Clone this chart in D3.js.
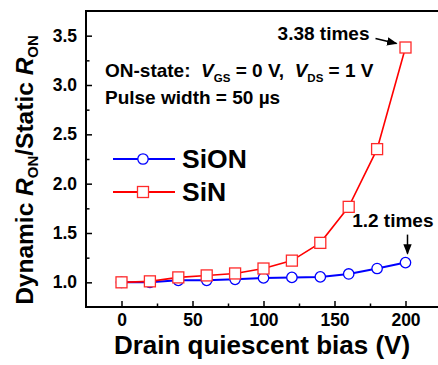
<!DOCTYPE html>
<html>
<head>
<meta charset="utf-8">
<script src="https://cdn.jsdelivr.net/npm/d3@7"></script>
<style>
  body { margin: 0; background: #fff; }
  svg text { font-family: "Liberation Sans", Arial, sans-serif; font-weight: bold; fill: #000; }
</style>
</head>
<body>
<svg id="chart" width="438" height="365"></svg>
<script>
// data
const bias = [0, 20, 40, 60, 80, 100, 120, 140, 160, 180, 200];
const sion = [1.0, 1.0, 1.02, 1.02, 1.03, 1.045, 1.05, 1.055, 1.085, 1.14, 1.2];
const sin = [1.0, 1.01, 1.05, 1.07, 1.09, 1.14, 1.22, 1.4, 1.765, 2.35, 3.38];
const xTicks = [0, 50, 100, 150, 200];
const yTicks = [1.0, 1.5, 2.0, 2.5, 3.0, 3.5];

const margin = { left: 86, top: 11 };
const width = 355, height = 296;

const svg = d3.select("#chart");
const g = svg.append("g").attr("transform", "translate(" + margin.left + "," + margin.top + ")");

const x = d3.scaleLinear().domain([-25, 225]).range([0, width]);
const y = d3.scaleLinear().domain([0.75, 3.75]).range([height, 0]);

// frame
g.append("rect").attr("width", width).attr("height", height)
  .attr("fill", "none").attr("stroke", "#000").attr("stroke-width", 2);

// axes, ticks pointing inward
const xAxis = g.append("g").attr("transform", "translate(0," + height + ")")
  .call(d3.axisBottom(x).tickValues(xTicks).tickSizeInner(-6).tickSizeOuter(0).tickPadding(7));
const yAxis = g.append("g")
  .call(d3.axisLeft(y).tickValues(yTicks).tickFormat(d3.format(".1f")).tickSizeInner(-6).tickSizeOuter(0).tickPadding(9));
g.append("g").attr("transform", "translate(0," + height + ")")
  .call(d3.axisBottom(x).tickValues([25, 75, 125, 175]).tickSizeInner(-3.5).tickSizeOuter(0).tickFormat(""));
g.append("g")
  .call(d3.axisLeft(y).tickValues([1.25, 1.75, 2.25, 2.75, 3.25]).tickSizeInner(-3.5).tickSizeOuter(0).tickFormat(""));
g.selectAll(".domain").remove();
g.selectAll(".tick line").attr("stroke", "#000").attr("stroke-width", 1.5);
g.selectAll(".tick text").attr("font-size", null).attr("font-family", null)
  .style("font-size", "17.5px").style("font-family", "Liberation Sans, Arial, sans-serif").style("font-weight", "bold");

// lines
const line = (vals) => d3.line().x((d, i) => x(bias[i])).y(d => y(d))(vals);
g.append("path").attr("d", line(sion)).attr("fill", "none").attr("stroke", "#0000ff").attr("stroke-width", 2);
g.append("path").attr("d", line(sin)).attr("fill", "none").attr("stroke", "#ff0000").attr("stroke-width", 1.6);

g.selectAll(".sion").data(sion).enter().append("circle")
  .attr("cx", (d, i) => x(bias[i])).attr("cy", d => y(d)).attr("r", 5.2)
  .attr("fill", "#fff").attr("stroke", "#0000ff").attr("stroke-width", 1.3);
g.selectAll(".sin").data(sin).enter().append("rect")
  .attr("x", (d, i) => x(bias[i]) - 5.5).attr("y", d => y(d) - 5.5)
  .attr("width", 11).attr("height", 11)
  .attr("fill", "#fff").attr("stroke", "#ff2a2a").attr("stroke-width", 1.3);

// legend
const leg = g.append("g").attr("transform", "translate(27,148)");
leg.append("line").attr("x1", 0).attr("x2", 62).attr("y1", 0).attr("y2", 0).attr("stroke", "#0000ff").attr("stroke-width", 2);
leg.append("circle").attr("cx", 30).attr("cy", 0).attr("r", 5.2).attr("fill", "#fff").attr("stroke", "#0000ff").attr("stroke-width", 1.3);
leg.append("text").attr("x", 69).attr("y", 8.5).style("font-size", "26.5px").text("SiON");
leg.append("line").attr("x1", 0).attr("x2", 62).attr("y1", 33).attr("y2", 33).attr("stroke", "#ff0000").attr("stroke-width", 2);
leg.append("rect").attr("x", 24.5).attr("y", 27.5).attr("width", 11).attr("height", 11).attr("fill", "#fff").attr("stroke", "#ff2a2a").attr("stroke-width", 1.3);
leg.append("text").attr("x", 69).attr("y", 41.5).style("font-size", "26.5px").text("SiN");

// condition text
const t1 = g.append("text").attr("x", 19).attr("y", 66).style("font-size", "19px");
t1.append("tspan").text("ON-state:\u00a0\u00a0");
t1.append("tspan").style("font-style", "italic").text("V");
t1.append("tspan").attr("dy", 5).style("font-size", "11.5px").text("GS");
t1.append("tspan").attr("dy", -5).text("\u00a0=\u00a00\u00a0V,\u00a0\u00a0");
t1.append("tspan").style("font-style", "italic").text("V");
t1.append("tspan").attr("dy", 5).style("font-size", "11.5px").text("DS");
t1.append("tspan").attr("dy", -5).text("\u00a0=\u00a01\u00a0V");
g.append("text").attr("x", 19).attr("y", 93).style("font-size", "19px").text("Pulse width = 50 \u00b5s");

// annotations
const arrowHead = svg.append("defs").append("marker").attr("id", "ah")
  .attr("viewBox", "0 0 10 10").attr("refX", 9).attr("refY", 5)
  .attr("markerWidth", 7).attr("markerHeight", 7).attr("orient", "auto");
arrowHead.append("path").attr("d", "M0,1 L10,5 L0,9 Z").attr("fill", "#000");

g.append("text").attr("x", x(200) - 36).attr("y", y(3.38) - 8).attr("text-anchor", "end").style("font-size", "19px").text("3.38 times");
g.append("line").attr("x1", x(200) - 30).attr("y1", y(3.38) - 9).attr("x2", x(200) - 9).attr("y2", y(3.38) - 4)
  .attr("stroke", "#000").attr("stroke-width", 1.5).attr("marker-end", "url(#ah)");
g.append("text").attr("x", x(200) + 28).attr("y", y(1.2) - 36).attr("text-anchor", "end").style("font-size", "19px").text("1.2 times");
g.append("line").attr("x1", x(200) + 2).attr("y1", y(1.2) - 28).attr("x2", x(200) + 2).attr("y2", y(1.2) - 9)
  .attr("stroke", "#000").attr("stroke-width", 1.5).attr("marker-end", "url(#ah)");

// axis titles
svg.append("text").attr("x", 262).attr("y", 354).attr("text-anchor", "middle").style("font-size", "26px").text("Drain quiescent bias (V)");
const yl = svg.append("text").attr("transform", "translate(33,170) rotate(-90)").attr("text-anchor", "middle").style("font-size", "24.5px");
yl.append("tspan").text("Dynamic ");
yl.append("tspan").style("font-style", "italic").text("R");
yl.append("tspan").attr("dy", 5).style("font-size", "15px").text("ON");
yl.append("tspan").attr("dy", -5).text("/Static ");
yl.append("tspan").style("font-style", "italic").text("R");
yl.append("tspan").attr("dy", 5).style("font-size", "15px").text("ON");
</script>
</body>
</html>
